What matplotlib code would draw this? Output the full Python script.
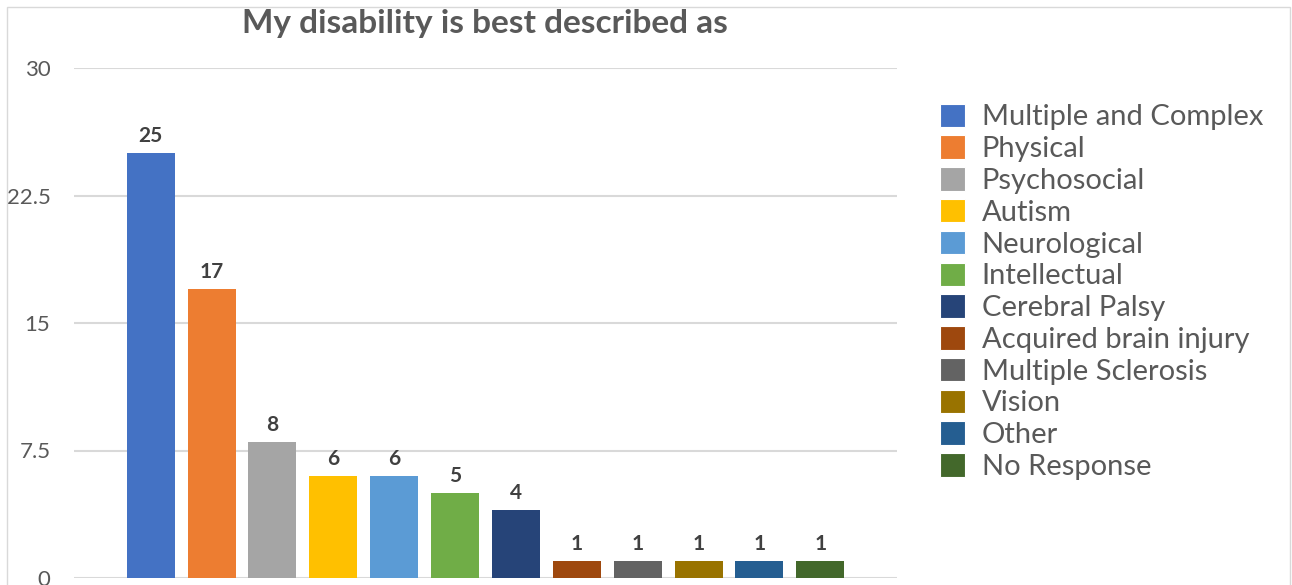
import matplotlib.pyplot as plt
from matplotlib.patches import Patch, Rectangle

# chart data
categories = ['Multiple and Complex', 'Physical', 'Psychosocial', 'Autism', 'Neurological',
              'Intellectual', 'Cerebral Palsy', 'Acquired brain injury', 'Multiple Sclerosis',
              'Vision', 'Other', 'No Response']
counts = [25, 17, 8, 6, 6, 5, 4, 1, 1, 1, 1, 1]
colors = ['#4472C4', '#ED7D31', '#A5A5A5', '#FFC000', '#5B9BD5', '#70AD47',
          '#264478', '#9E480E', '#636363', '#997300', '#255E91', '#43682B']
yticks = [0, 7.5, 15, 22.5, 30]
title = 'My disability is best described as'

plt.rcParams['font.family'] = ['Lato', 'DejaVu Sans']

fig = plt.figure(figsize=(12.92, 5.85), dpi=100)
ax = fig.add_axes([74 / 1292, 1 - 578 / 585, (897 - 74) / 1292, (578 - 68) / 585])

x = list(range(len(categories)))
bars = ax.bar(x, counts, width=0.79, color=colors, zorder=3)

for b, v in zip(bars, counts):
    ax.annotate(str(v), (b.get_x() + b.get_width() / 2, v), xytext=(0, 5),
                textcoords='offset points', ha='center', va='bottom',
                fontsize=15, fontweight='bold', color='#404040')

ax.set_xlim(-1.26, len(categories) - 1 + 1.26)
ax.set_ylim(0, 30)
ax.set_yticks(yticks)
ax.set_yticklabels(['0', '7.5', '15', '22.5', '30'])
ax.set_xticks([])
ax.tick_params(axis='y', length=0, labelsize=16, labelcolor='#595959', pad=17)
ax.grid(axis='y', color='#D9D9D9', linewidth=1.5, zorder=0)
for s in ax.spines.values():
    s.set_visible(False)

fig.text(485 / 1292, 1 - 24 / 585, title, ha='center', va='center',
         fontsize=24, fontweight='bold', color='#595959')

handles = [Patch(facecolor=c, edgecolor='white', linewidth=0.8) for c in colors]
fig.legend(handles, categories, loc='upper left', bbox_to_anchor=(928 / 1292, 1 - 92 / 585),
           frameon=False, fontsize=21, labelcolor='#595959', handlelength=0.86,
           handleheight=0.86, handletextpad=0.58, labelspacing=0.17, borderaxespad=0)

# light frame around the chart
fig.patches.append(Rectangle((7 / 1292, -0.01), (1290 - 7) / 1292, 1 - 7 / 585 + 0.01,
                             transform=fig.transFigure, fill=False,
                             edgecolor='#D9D9D9', linewidth=1))

fig.savefig('out.png', dpi=100)
